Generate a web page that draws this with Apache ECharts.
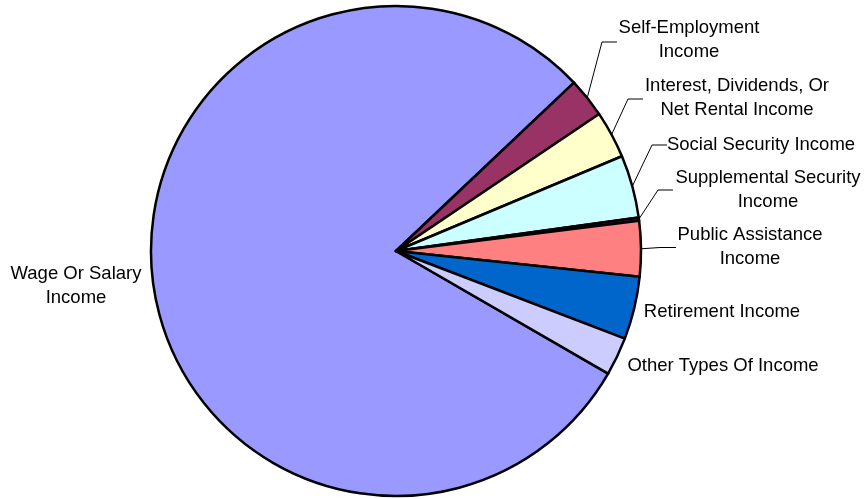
<!DOCTYPE html>
<html><head><meta charset="utf-8">
<script src="https://cdn.jsdelivr.net/npm/echarts@6/dist/echarts.min.js"></script>
<style>html,body{margin:0;padding:0;background:#fff}#c{width:868px;height:499px}</style>
</head><body><div id="c"></div>
<script>
const categories = ['Wage Or Salary\nIncome', 'Self-Employment\nIncome', 'Interest, Dividends, Or\nNet Rental Income', 'Social Security Income', 'Supplemental Security\nIncome', 'Public Assistance\nIncome', 'Retirement Income', 'Other Types Of Income'];
const values = [79.6, 2.62, 3.12, 4.13, 0.22, 3.65, 4.14, 2.52];
const colors = ['#9999FF', '#993366', '#FFFFCC', '#CCFFFF', '#660066', '#FF8080', '#0066CC', '#CCCCFF'];
// label placement (text centre) and leader-line bend/end points
const labelAnchors = [
  { x: 76, y: 286 },
  { x: 689, y: 40, line: [[602, 42], [617, 42]] },
  { x: 737, y: 98, line: [[628, 99], [643, 99]] },
  { x: 761, y: 145, line: [[652, 145], [667, 145]] },
  { x: 768, y: 190, line: [[658, 190], [673, 190]] },
  { x: 750, y: 247, line: [[660, 247.5], [676, 247.5]] },
  { x: 722, y: 312 },
  { x: 723, y: 366 }
];

const data = categories.map((name, i) => ({
  name: name,
  value: values[i],
  itemStyle: { color: colors[i] },
  labelLine: { show: !!labelAnchors[i].line }
}));

const chart = echarts.init(document.getElementById('c'), null, { renderer: 'canvas' });
chart.setOption({
  animation: false,
  backgroundColor: '#ffffff',
  series: [{
    type: 'pie',
    center: [396, 251],
    radius: 245,
    startAngle: 329.97,
    clockwise: true,
    avoidLabelOverlap: false,
    silent: true,
    data: data,
    itemStyle: { borderColor: '#000', borderWidth: 2.5 },
    label: {
      show: true,
      position: 'outside',
      formatter: '{b}',
      color: '#000',
      fontFamily: '"Liberation Sans", Arial, sans-serif',
      fontSize: 18.5,
      lineHeight: 23.5,
      align: 'center'
    },
    labelLine: {
      show: true,
      length: 10,
      length2: 10,
      lineStyle: { color: '#000', width: 1 }
    },
    labelLayout: function (p) {
      const a = labelAnchors[p.dataIndex];
      const res = { x: a.x, y: a.y, align: 'center', verticalAlign: 'middle' };
      if (a.line && p.labelLinePoints) {
        res.labelLinePoints = [p.labelLinePoints[0]].concat(a.line);
      }
      return res;
    },
    emphasis: { disabled: true }
  }]
});
</script>
</body></html>
